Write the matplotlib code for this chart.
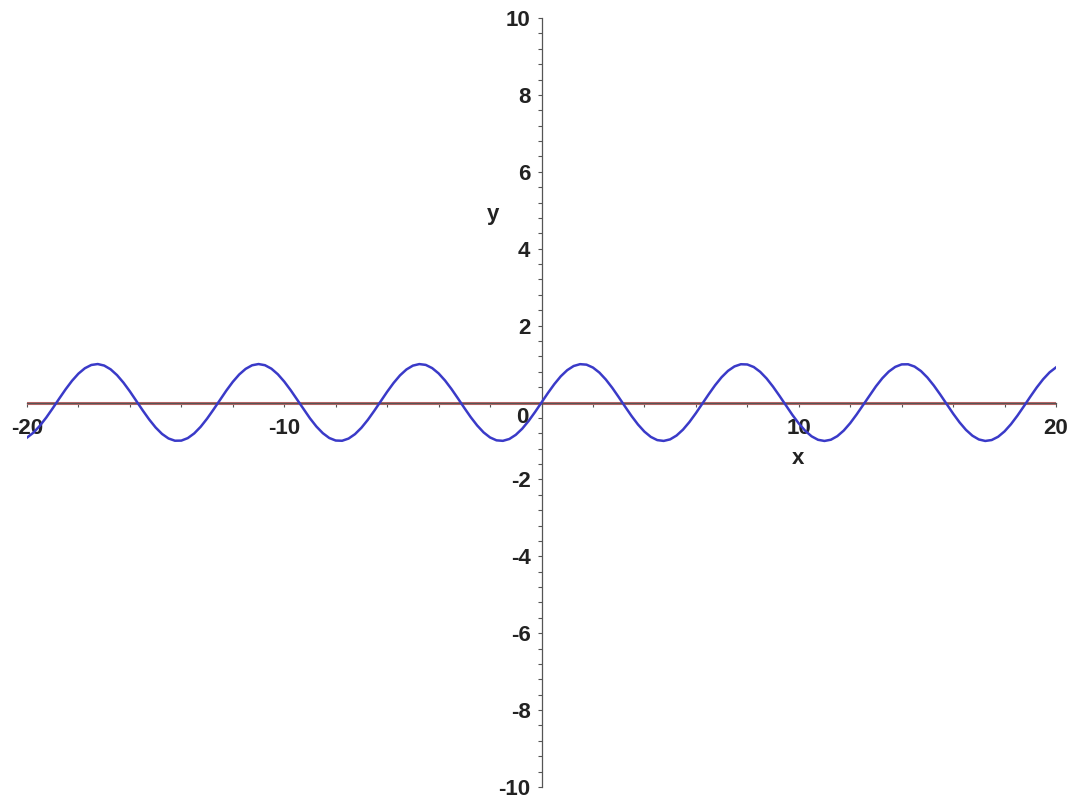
import numpy as np
import matplotlib
matplotlib.use("Agg")
import matplotlib.pyplot as plt
from matplotlib.ticker import MultipleLocator, FixedLocator

# ---- data ----
# curve values for x = 0, 0.25, 0.5, ..., 20 (the curve is odd-symmetric about the origin)
x_step = 0.25
pos_vals = [0.000, 0.247, 0.479, 0.682, 0.841, 0.949, 0.997, 0.984, 0.909, 0.778,
            0.598, 0.382, 0.141, -0.108, -0.351, -0.572, -0.757, -0.895, -0.978, -0.999,
            -0.959, -0.859, -0.706, -0.508, -0.279, -0.033, 0.215, 0.450, 0.657, 0.823,
            0.938, 0.995, 0.989, 0.923, 0.798, 0.625, 0.412, 0.174, -0.075, -0.320,
            -0.544, -0.735, -0.880, -0.970, -1.000, -0.968, -0.875, -0.729, -0.537, -0.311,
            -0.066, 0.183, 0.420, 0.632, 0.804, 0.926, 0.991, 0.994, 0.935, 0.818,
            0.650, 0.442, 0.207, -0.042, -0.288, -0.516, -0.712, -0.863, -0.961, -1.000,
            -0.976, -0.891, -0.751, -0.564, -0.342, -0.099, 0.150, 0.390, 0.605, 0.784,
            0.913]
curve_y = [-v for v in pos_vals[:0:-1]] + pos_vals
curve_x = np.arange(len(curve_y)) * x_step - 20.0

line_x = [-20, 20]
line_y = [0, 0]

x_major_labels = [-20, -10, 10, 20]
y_major_labels = [-10, -8, -6, -4, -2, 2, 4, 6, 8, 10]

# ---- figure ----
plt.rcParams['font.family'] = ['Liberation Sans', 'DejaVu Sans']
plt.rcParams['axes.unicode_minus'] = False
fig = plt.figure(figsize=(10.71, 8.01), dpi=100)
ax = fig.add_axes([27/1071, 14/801, (1056-27)/1071, (787-18)/801])

ax.plot(curve_x, curve_y, color='#3a3ac8', lw=1.8, zorder=3)
ax.plot(line_x, line_y, color='#c06868', lw=2.2, zorder=2)

ax.set_xlim(-20, 20)
ax.set_ylim(-10, 10)

for s in ['top', 'right']:
    ax.spines[s].set_visible(False)
ax.spines['left'].set_position(('data', 0))
ax.spines['bottom'].set_position(('data', 0))
for s in ['left', 'bottom']:
    ax.spines[s].set_color('#555555')
    ax.spines[s].set_linewidth(0.9)

ax.xaxis.set_major_locator(FixedLocator(x_major_labels))
ax.yaxis.set_major_locator(FixedLocator(y_major_labels))
ax.xaxis.set_minor_locator(MultipleLocator(2))
ax.yaxis.set_minor_locator(MultipleLocator(0.4))

fs = 16
ax.tick_params(axis='x', which='both', direction='out', length=3, width=0.8,
               color='#555555', pad=8, labelsize=fs)
ax.tick_params(axis='y', which='both', direction='out', length=3, width=0.8,
               color='#555555', pad=5, labelsize=fs)
for lab in ax.get_xticklabels() + ax.get_yticklabels():
    lab.set_fontweight('bold')
    lab.set_color('#222222')

ax.text(-0.74, -0.39, '0', ha='center', va='center', fontsize=fs,
        fontweight='bold', color='#222222')
ax.text(-1.9, 4.9, 'y', ha='center', va='center', fontsize=fs,
        fontweight='bold', color='#222222')
ax.text(9.96, -1.46, 'x', ha='center', va='center', fontsize=fs,
        fontweight='bold', color='#222222')

fig.savefig('out.png', dpi=100)
